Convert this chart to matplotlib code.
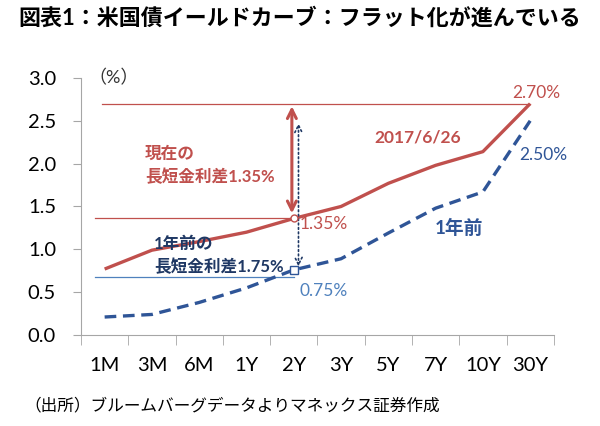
import matplotlib
matplotlib.use("Agg")
import matplotlib.pyplot as plt

plt.rcParams['font.family'] = ['Lato', 'Noto Sans CJK JP', 'DejaVu Sans']

# maturities and yields (%)
maturities = ["1M", "3M", "6M", "1Y", "2Y", "3Y", "5Y", "7Y", "10Y", "30Y"]
yield_now = [0.77, 0.99, 1.09, 1.20, 1.36, 1.50, 1.77, 1.98, 2.14, 2.70]
yield_1y_ago = [0.21, 0.24, 0.38, 0.55, 0.76, 0.89, 1.19, 1.48, 1.67, 2.50]
yticks = [0.0, 0.5, 1.0, 1.5, 2.0, 2.5, 3.0]

red = "#c0504d"
blue = "#2f5597"
navy = "#1f3864"
light_blue = "#4f81bd"

fig = plt.figure(figsize=(6, 4.26), dpi=100)
ax = fig.add_axes([0.135, 0.2136, 0.788, 0.6034])

x = list(range(len(maturities)))
ax.plot(x, yield_now, color=red, lw=2.4, solid_capstyle="butt", zorder=3)
ax.plot(x, yield_1y_ago, color=blue, lw=2.4, ls=(0, (3.5, 2)), zorder=3)

# reference lines
ax.plot([-0.05, 9], [2.70, 2.70], color=red, lw=0.9, zorder=2)
ax.plot([-0.2, 4], [1.37, 1.37], color=red, lw=0.9, zorder=2)
ax.plot([-0.2, 4], [0.68, 0.68], color=light_blue, lw=0.9, zorder=2)

# spread arrows
ax.annotate("", xy=(3.96, 2.67), xytext=(3.96, 1.42),
            arrowprops=dict(arrowstyle="<->", color=red, lw=2.2,
                            mutation_scale=16, shrinkA=0, shrinkB=0), zorder=4)
ax.annotate("", xy=(4.1, 2.47), xytext=(4.1, 0.80),
            arrowprops=dict(arrowstyle="<->", color=navy, lw=1.2, ls=":",
                            mutation_scale=13, shrinkA=0, shrinkB=0), zorder=4)

# 2Y markers
ax.plot(4, 1.36, marker="o", ms=5, mfc="white", mec=red, mew=1, zorder=5)
ax.plot(4, 0.76, marker="s", ms=6, mfc="white", mec=blue, mew=1, zorder=5)

# labels
ax.text(0.85, 1.98, "現在の\n長短金利差1.35%", color=red, fontsize=12,
        fontweight="bold", ha="left", va="center", linespacing=1.45)
ax.text(6.62, 2.30, "2017/6/26", color=red, fontsize=12.5, fontweight="bold",
        ha="center", va="center")
ax.text(9.14, 2.83, "2.70%", color=red, fontsize=12.5, ha="center", va="center")
ax.text(9.27, 2.10, "2.50%", color=blue, fontsize=12.5, ha="center", va="center")
ax.text(4.13, 1.30, "1.35%", color=red, fontsize=12.5, ha="left", va="center")
ax.text(7.49, 1.25, "1年前", color=blue, fontsize=13.5, fontweight="bold",
        ha="center", va="center")
ax.text(1.04, 0.925, "1年前の\n長短金利差1.75%", color=navy, fontsize=12,
        fontweight="bold", ha="left", va="center", linespacing=1.45)
ax.text(4.13, 0.51, "0.75%", color=light_blue, fontsize=12.5, ha="left", va="center")
ax.text(-0.35, 3.0, "（%）", color="#333333", fontsize=13, ha="left", va="center")

ax.set_xlim(-0.5, 9.5)
ax.set_ylim(0, 3.0)
ax.set_yticks(yticks)
ax.set_yticklabels([f"{v:.1f}" for v in yticks], fontsize=14.5)
ax.set_xticks(x)
ax.set_xticklabels(maturities, fontsize=14.5)
ax.set_xticks([i - 0.5 for i in range(len(maturities) + 1)], minor=True)
ax.tick_params(axis="x", which="major", length=0, pad=16)
ax.tick_params(axis="x", which="minor", length=7, color="#a6a6a6", direction="out")
ax.tick_params(axis="y", length=6, color="#a6a6a6", pad=12)

for s in ["top", "right"]:
    ax.spines[s].set_visible(False)
for s in ["left", "bottom"]:
    ax.spines[s].set_color("#a6a6a6")

fig.text(0.03, 0.958, "図表1：米国債イールドカーブ：フラット化が進んでいる",
         fontsize=15.8, fontweight="bold", ha="left", va="center")
fig.text(0.04, 0.049, "（出所）ブルームバーグデータよりマネックス証券作成",
         fontsize=12, ha="left", va="center")

fig.savefig("out.png", dpi=100)
